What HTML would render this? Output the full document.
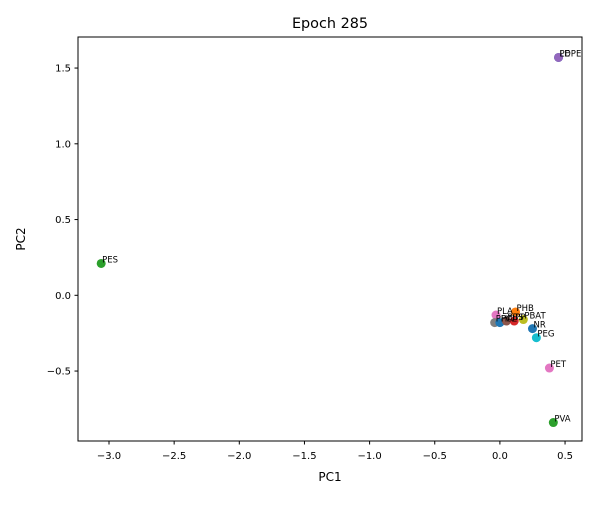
<!DOCTYPE html>
<html><head><meta charset="utf-8"><style>
body{margin:0;background:#fff;font-family:"Liberation Sans","DejaVu Sans",sans-serif;}
svg text{font-family:"DejaVu Sans","Liberation Sans",sans-serif;}
</style></head><body>
<svg id="chart" width="600" height="500" xmlns="http://www.w3.org/2000/svg">
<rect width="600" height="500" fill="#fff"/>
<text x="330" y="28" text-anchor="middle" font-size="14.4">Epoch 285</text>
<g id="plot"></g>
<rect x="78" y="37" width="504" height="404" fill="none" stroke="#000" stroke-width="1"/>
<text x="330" y="481" text-anchor="middle" font-size="12">PC1</text>
<text x="25" y="239" text-anchor="middle" font-size="12" transform="rotate(-90 25 239)">PC2</text>
</svg>
<script>
const labels=["PES","PE","LDPE","PET","PVA","PEG","NR","PBAT","PHB","PLA","PHA","PCL","PBS","PP"];
const pc1=[-3.06,0.45,0.45,0.38,0.41,0.28,0.25,0.18,0.12,-0.03,-0.04,0.0,0.05,0.11];
const pc2=[0.21,1.57,1.57,-0.48,-0.84,-0.28,-0.22,-0.16,-0.11,-0.13,-0.18,-0.18,-0.17,-0.17];
const colors=["#2ca02c","#1f77b4","#9467bd","#e377c2","#2ca02c","#17becf","#1f77b4","#bcbd22","#ff7f0e","#e377c2","#7f7f7f","#1f77b4","#8c564b","#d62728"];
const xTicks=[-3.0,-2.5,-2.0,-1.5,-1.0,-0.5,0.0,0.5];
const yTicks=[-0.5,0.0,0.5,1.0,1.5];
const X=v=>499.9+v*130.3, Y=v=>295.3-v*151.5;
const fmt=v=>v.toFixed(1).replace('-','\u2212');
const NS="http://www.w3.org/2000/svg", svg=document.getElementById('chart'), g=document.getElementById('plot');
function mk(t,a,p){const e=document.createElementNS(NS,t);for(const k in a)e.setAttribute(k,a[k]);(p||g).appendChild(e);return e;}
xTicks.forEach(v=>{const x=X(v);
 const l=mk('line',{x1:x,x2:x,y1:441,y2:444.5,stroke:'#000'},svg);
 
 
 const t=mk('text',{x:x,y:459,'text-anchor':'middle','font-size':'10'},svg);t.textContent=fmt(v);
 
 });
yTicks.forEach(v=>{const y=Y(v);
 const l=mk('line',{x1:74.5,x2:78,y1:y,y2:y,stroke:'#000'},svg);
 
 
 const t=mk('text',{x:71,y:y+3.5,'text-anchor':'end','font-size':'10'},svg);t.textContent=fmt(v);
 
 });
labels.forEach((n,i)=>{const x=X(pc1[i]),y=Y(pc2[i]);
 const c=mk('circle',{cx:x,cy:y,r:4.5,fill:colors[i]});
 
 });
labels.forEach((n,i)=>{const x=X(pc1[i]),y=Y(pc2[i]);
 const t=mk('text',{x:x+1,y:y-1,'font-size':'8.5'});t.textContent=n;
 
 });
</script>
</body></html>
